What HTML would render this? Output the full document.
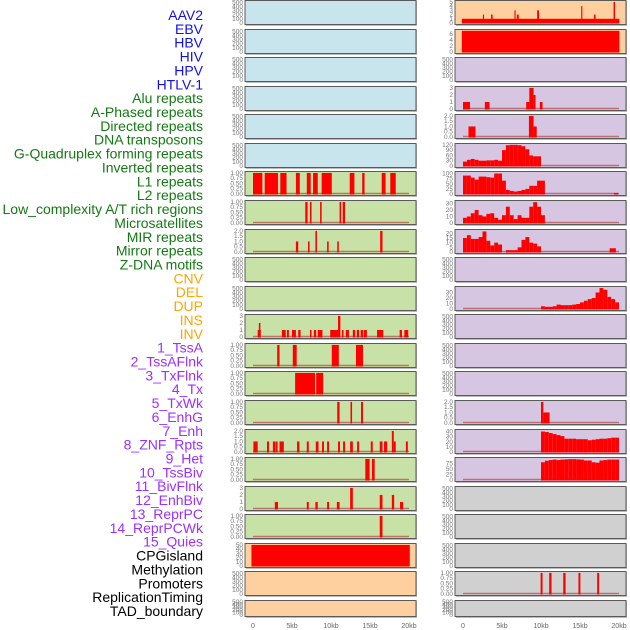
<!DOCTYPE html>
<html><head><meta charset="utf-8">
<style>
html,body{margin:0;padding:0;background:#fff;}
svg{display:block;}
</style></head>
<body>
<svg id="chart" width="630" height="630" xmlns="http://www.w3.org/2000/svg" font-family="Liberation Sans, sans-serif"></svg>
<script>
// ---------- labels ----------
const labelNames = ["AAV2","EBV","HBV","HIV","HPV","HTLV-1","Alu repeats","A-Phased repeats","Directed repeats","DNA transposons","G-Quadruplex forming repeats","Inverted repeats","L1 repeats","L2 repeats","Low_complexity A/T rich regions","Microsatellites","MIR repeats","Mirror repeats","Z-DNA motifs","CNV","DEL","DUP","INS","INV","1_TssA","2_TssAFlnk","3_TxFlnk","4_Tx","5_TxWk","6_EnhG","7_Enh","8_ZNF_Rpts","9_Het","10_TssBiv","11_BivFlnk","12_EnhBiv","13_ReprPC","14_ReprPCWk","15_Quies","CPGisland","Methylation","Promoters","ReplicationTiming","TAD_boundary"];
const labelGroups = [6,13,5,15,5]; // blue, green, orange, purple, black
const groupColors = ["#1010f0","#137a13","#ffa500","#9b30ff","#000000"];

// ---------- x axis ----------
const xTicks = [0,5,10,15,20];
const xTickLabels = ["0","5kb","10kb","15kb","20kb"];

// ---------- left column track data (segments: [startKb, endKb, value]) ----------
const EMPTY_TICKS = [0,100,200,300,400,500];
const T01 = [0,0.25,0.5,0.75,1];
const TL = ["0.00","0.25","0.50","0.75","1.00"];
const L_L1 = [[0,1.2,1],[1.5,3.2,1],[3.5,4.3,1],[5.5,6.0,1],[6.9,7.4,1],[7.7,8.3,1],[8.8,10.1,1],[12.4,13.0,1],[14.0,14.3,1],[16.5,17.0,1],[17.6,18.3,1]];
const L_L2 = [[6.7,7.0,1],[7.3,7.5,1],[8.6,8.8,1],[11.1,11.3,1],[11.5,11.8,1]];
const L_Low = [[5.5,5.8,1],[7.05,7.25,1],[8.0,8.2,2],[9.5,9.7,1],[10.8,11.0,1],[16.3,16.6,2]];
const L_Mirror = [[0.6,1.0,1],[0.75,0.95,2],[3.7,4.2,1],[4.35,4.6,1],[5.0,5.5,1],[5.8,6.1,1],[7.3,7.5,1],[7.8,8.1,1],[8.3,8.9,1],[9.9,10.9,1],[10.9,11.2,3],[11.4,11.6,1],[11.9,12.3,1],[12.8,13.1,1],[13.3,13.6,1],[13.8,14.1,1],[14.2,14.6,1],[15.9,16.7,1],[18.8,19.1,1],[19.4,19.9,1]];
const L_TssA = [[3.1,3.4,1],[5.1,5.6,1],[10.1,11.0,1],[13.2,14.1,1]];
const L_TssAF = [[5.4,7.95,1],[8.1,9.0,1]];
const L_TxF = [[10.8,11.1,1],[12.5,12.7,1],[13.85,14.1,1]];
const L_Tx = [[0.05,0.6,1],[1.8,2.05,1],[2.55,2.85,1],[2.9,3.15,1],[3.4,3.95,1],[5.65,5.95,1],[6.9,7.15,1],[8.05,8.4,1],[8.85,9.1,1],[9.5,9.75,1],[10.9,11.15,1],[11.55,11.8,1],[12.45,12.8,1],[13.35,13.6,1],[15.1,15.35,1],[16.25,16.6,1],[16.8,17.2,1],[17.8,18.05,2],[18.05,18.3,1],[19.6,19.85,1]];
const L_TxWk = [[14.4,14.95,1],[15.25,15.6,1]];
const L_EnhG = [[2.8,3.2,1],[6.9,7.15,1],[8.0,8.3,1],[9.5,9.75,1],[10.75,11.1,1],[12.45,12.8,3],[16.25,16.6,2],[17.8,18.1,2],[18.85,19.25,1]];
const L_Enh = [[16.25,16.6,1]];
const L_CPG = [[-0.2,20.1,50]];

// ---------- right column track data ----------
const R_AAV2 = [[-0.15,20.05,1],[2.55,2.7,2],[3.6,3.8,2],[6.6,6.75,3],[6.9,7.15,2],[9.5,9.75,3],[15.15,15.3,4],[16.8,17.0,2],[19.3,19.5,5]];
const R_EBV = [[-0.15,20.05,7]];
const R_Alu = [[0,0.9,1],[2.8,3.4,1],[8.1,8.5,1],[8.5,9.05,3],[9.05,9.3,2],[9.85,10.2,1]];
const R_APh = [[0.7,1.6,1],[8.45,9.05,2],[9.05,9.45,1]];
// profiles in 0.5 kb bins
const R_Dir_start = 0;
const R_Dir = [25,35,40,35,30,30,32,32,35,30,90,118,120,120,118,112,95,60,55,55];
const R_DNA_start = 0;
const R_DNA = [90,90,80,70,85,85,82,80,100,100,65,20,15,12,15,20,25,40,40,65,65];
const R_DNA_extra = [[19.35,19.9,5]];
const R_GQ_start = 0;
const R_GQ = [8,10,15,20,12,10,14,15,8,5,12,25,12,6,12,8,8,25,32,25,12];
const R_Inv_start = 0;
const R_Inv = [15,18,14,14,16,22,12,7,10,8,0,2,2,2,5,13,16,10,9,6];
const R_Inv_extra = [[18.8,19.6,4]];
const R_L2_start = 10;
const R_L2 = [5,4,4,5,8,7,7,7,8,9,12,15,18,20,30,38,35,22,18,12];
const R_MIR = [[10.0,10.3,2],[10.3,11.1,1]];
const R_Mirror_start = 10;
const R_Mirror = [40,39,37,35,33,31,26,26,26,25,25,25,23,24,25,26,26,27,28,28];
const R_Z_start = 10;
const R_Z = [80,87,90,92,90,92,93,94,94,93,92,88,88,80,78,88,90,92,92,92];
const R_Prom = [[9.95,10.2,1],[11.05,11.35,1],[12.85,13.15,1],[14.8,15.05,1],[17.2,17.45,1]];

function bins(start, vals){ return vals.map((v,i)=>[start+i*0.5, start+(i+1)*0.5, v]); }

const C_BLUE="#c8e4ec", C_GREEN="#c8e1a6", C_PEACH="#ffd09f", C_LAV="#d6c6e2", C_GRAY="#d0d0d0";
function E(bg){ return {bg:bg, ticks:EMPTY_TICKS, tl:null, ymax:520, segs:null}; }
function T(bg, segs, ticks, ymax, tl){ return {bg:bg, ticks:ticks, tl:tl||null, ymax:ymax, segs:segs}; }

const leftTracks = [
  E(C_BLUE),E(C_BLUE),E(C_BLUE),E(C_BLUE),E(C_BLUE),E(C_BLUE),
  T(C_GREEN,L_L1,T01,1.02,TL),
  T(C_GREEN,L_L2,T01,1.02,TL),
  T(C_GREEN,L_Low,[0,0.5,1,1.5,2],2.04,["0.0","0.5","1.0","1.5","2.0"]),
  E(C_GREEN),E(C_GREEN),
  T(C_GREEN,L_Mirror,[0,1,2,3],3.06),
  T(C_GREEN,L_TssA,T01,1.02,TL),
  T(C_GREEN,L_TssAF,T01,1.02,TL),
  T(C_GREEN,L_TxF,T01,1.02,TL),
  T(C_GREEN,L_Tx,[0,0.5,1,1.5,2],2.04,["0.0","0.5","1.0","1.5","2.0"]),
  T(C_GREEN,L_TxWk,T01,1.02,TL),
  T(C_GREEN,L_EnhG,[0,1,2,3],3.06),
  T(C_GREEN,L_Enh,T01,1.02,TL),
  T(C_PEACH,L_CPG,[0,10,20,30,40,50],51),
  E(C_PEACH),E(C_PEACH)
];
const rightTracks = [
  T(C_PEACH,R_AAV2,[0,1,2,3,4,5],5.1),
  T(C_PEACH,R_EBV,[0,2,4,6],7.1),
  E(C_LAV),
  T(C_LAV,R_Alu,[0,1,2,3],3.06),
  T(C_LAV,R_APh,[0,0.5,1,1.5,2],2.04,["0.0","0.5","1.0","1.5","2.0"]),
  T(C_LAV,bins(R_Dir_start,R_Dir),[0,30,60,90,120],122),
  T(C_LAV,bins(R_DNA_start,R_DNA).concat(R_DNA_extra),[0,25,50,75,100],105),
  T(C_LAV,bins(R_GQ_start,R_GQ),[0,10,20,30],33),
  T(C_LAV,bins(R_Inv_start,R_Inv).concat(R_Inv_extra),[0,5,10,15,20],23),
  E(C_LAV),
  T(C_LAV,bins(R_L2_start,R_L2),[0,10,20,30],39),
  E(C_LAV),E(C_LAV),E(C_LAV),
  T(C_LAV,R_MIR,[0,0.5,1,1.5,2],2.04,["0.0","0.5","1.0","1.5","2.0"]),
  T(C_LAV,bins(R_Mirror_start,R_Mirror),[0,10,20,30,40],42),
  T(C_LAV,bins(R_Z_start,R_Z),[0,25,50,75],97),
  E(C_GRAY),E(C_GRAY),E(C_GRAY),
  T(C_GRAY,R_Prom,T01,1.02,TL),
  E(C_GRAY)
];

const NS="http://www.w3.org/2000/svg";
const svg=document.getElementById('chart');
function mk(tag, attrs, parent){ const el=document.createElementNS(NS,tag); for(const k in attrs) el.setAttribute(k,attrs[k]); (parent||svg).appendChild(el); return el; }

// labels
let idx=0;
labelGroups.forEach((n,g)=>{
  for(let j=0;j<n;j++){
    const t=mk('text',{x:203,y:(15+idx*13.86+5).toFixed(1),'text-anchor':'end','font-size':'14',fill:groupColors[g]});
    
    
    t.textContent=labelNames[idx]; idx++;
  }
});

function rowTop(i){ return Math.round(i*28.57); }
function rowH(i){ return i===21?17:25; }

function drawColumn(tracks, px0, px1, x0, x1, colName){
  const X = kb => x0 + (kb/20)*(x1-x0);
  tracks.forEach((tr,i)=>{
    const top=rowTop(i), h=rowH(i);
    const g=mk('g',{});
    
    
    mk('rect',{x:px0+1,y:top+1,width:px1-px0,height:h,fill:'#bbb'},g);
    const bg=mk('rect',{x:px0,y:top+0.5,width:px1-px0,height:h-1,fill:tr.bg,stroke:'#5a5a5a','stroke-width':1},g);
    
    
    const y0=top+h-2, yT=top+1.5;
    const Y = v => y0 - (v/tr.ymax)*(y0-yT);
    // ticks
    tr.ticks.forEach((tv,k)=>{
      const lab=mk('text',{x:px0-2,y:(Y(tv)+2).toFixed(1),'text-anchor':'end','font-size':'6.5',fill:'#777'},g);
      
      
      lab.textContent= tr.tl ? tr.tl[k] : String(tv);
    });
    if(tr.segs){
      const bl=mk('line',{x1:X(0),x2:X(20),y1:y0-0.5,y2:y0-0.5,stroke:'#b03030','stroke-width':1.6,'stroke-opacity':0.6},g);
      
      
      tr.segs.forEach(s=>{
        if(s[2]<=0) return;
        const yy=Math.max(Y(s[2]),top+1);
        const r=mk('rect',{x:X(s[0]).toFixed(2),y:yy.toFixed(2),width:Math.max(1,X(s[1])-X(s[0])).toFixed(2),height:(y0-yy+0.5).toFixed(2),fill:'#ff0000'},g);
        
        
      });
    }
  });
  xTicks.forEach((t,k)=>{
    const lab=mk('text',{x:X(t).toFixed(1),y:628,'text-anchor':'middle','font-size':'7',fill:'#666'});
    
    
    lab.textContent=xTickLabels[k];
  });
}
drawColumn(leftTracks,245,416,253,409,'left');
drawColumn(rightTracks,455,626,463,619,'right');
</script>
</body></html>
